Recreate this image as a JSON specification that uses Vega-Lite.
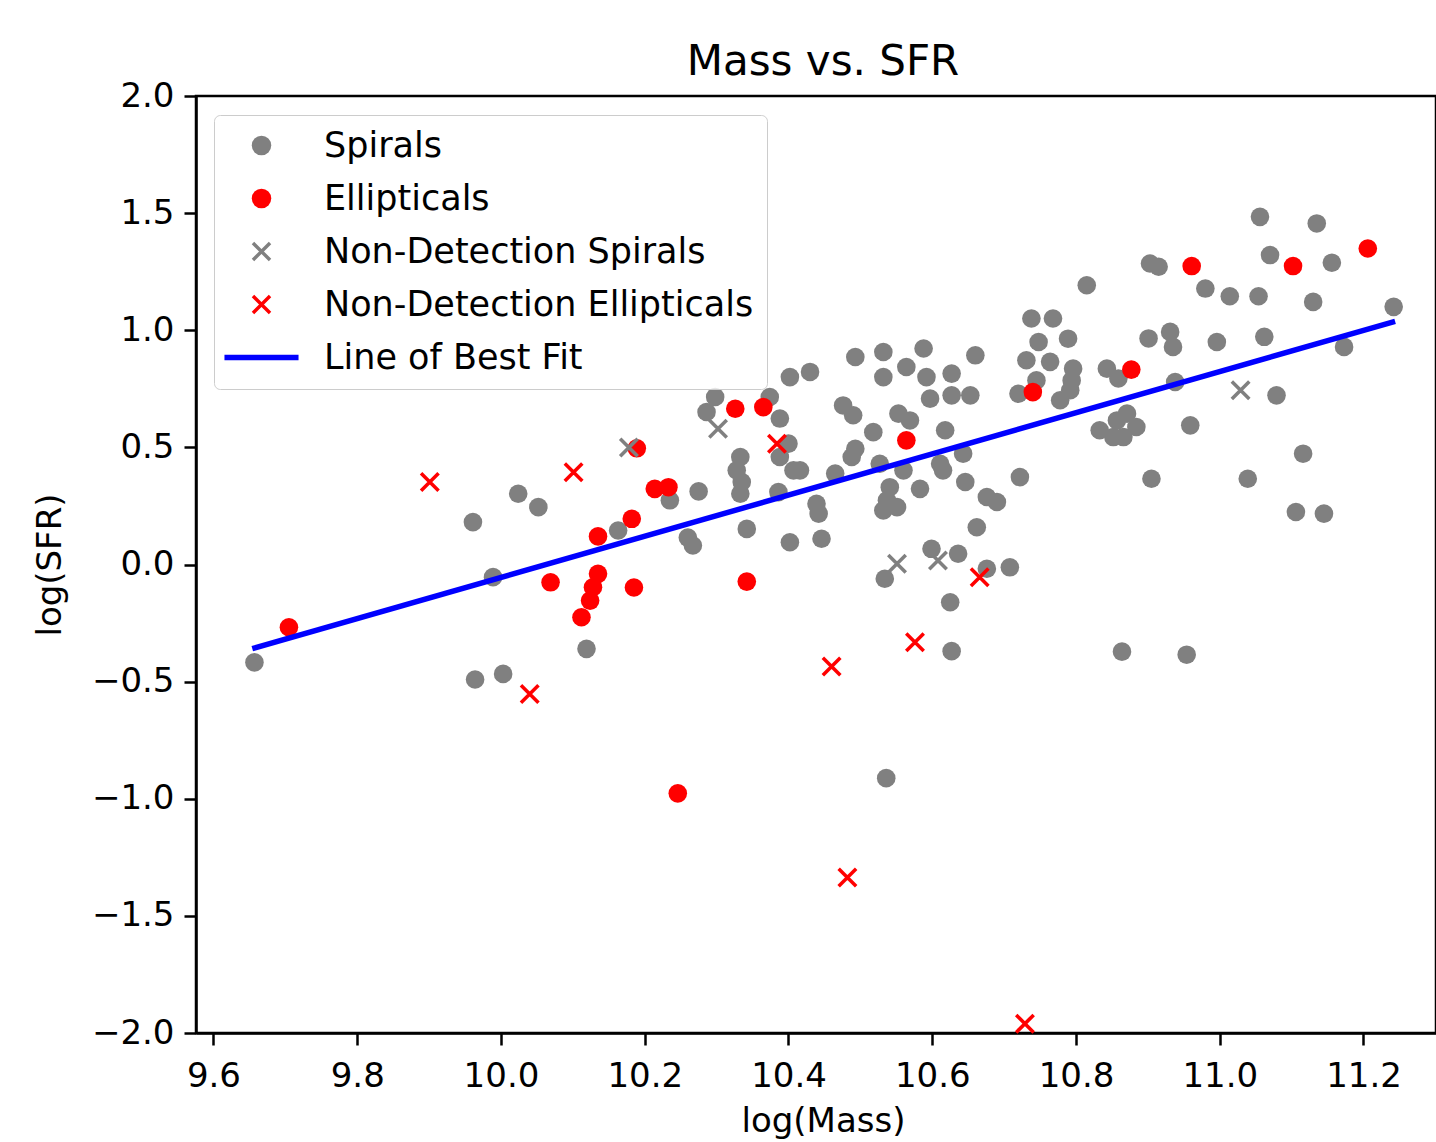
{
  "$schema": "https://vega.github.io/schema/vega-lite/v6.json",
  "autosize": {"type": "none"},
  "padding": {"left": 196, "top": 96, "right": 0, "bottom": 109},
  "width": 1240,
  "height": 937,
  "background": "white",
  "title": {"text": "Mass vs. SFR", "font": "DejaVu Sans", "fontSize": 42, "fontWeight": "normal", "color": "black", "anchor": "middle", "frame": "group", "offset": 9, "dx": 7, "dy": 14},
  "config": {
    "view": {"stroke": "black", "strokeWidth": 2.5},
    "axis": {"labelFont": "DejaVu Sans", "titleFont": "DejaVu Sans", "labelFontSize": 34, "titleFontSize": 34, "titleFontWeight": "normal", "labelColor": "black", "titleColor": "black", "tickColor": "black", "domainColor": "black", "tickSize": 12, "tickWidth": 2.5, "domainWidth": 2.5, "grid": false},
    "legend": {"labelFont": "DejaVu Sans"}
  },
  "datasets": {
    "points": [
      {"mass": 9.657, "sfr": -0.418, "type": "Spirals"},
      {"mass": 9.961, "sfr": 0.181, "type": "Spirals"},
      {"mass": 10.024, "sfr": 0.302, "type": "Spirals"},
      {"mass": 10.052, "sfr": 0.245, "type": "Spirals"},
      {"mass": 9.989, "sfr": -0.054, "type": "Spirals"},
      {"mass": 10.119, "sfr": -0.360, "type": "Spirals"},
      {"mass": 9.964, "sfr": -0.491, "type": "Spirals"},
      {"mass": 10.003, "sfr": -0.467, "type": "Spirals"},
      {"mass": 10.163, "sfr": 0.145, "type": "Spirals"},
      {"mass": 10.235, "sfr": 0.274, "type": "Spirals"},
      {"mass": 10.275, "sfr": 0.312, "type": "Spirals"},
      {"mass": 10.260, "sfr": 0.115, "type": "Spirals"},
      {"mass": 10.267, "sfr": 0.081, "type": "Spirals"},
      {"mass": 10.342, "sfr": 0.152, "type": "Spirals"},
      {"mass": 10.402, "sfr": 0.095, "type": "Spirals"},
      {"mass": 10.333, "sfr": 0.459, "type": "Spirals"},
      {"mass": 10.328, "sfr": 0.402, "type": "Spirals"},
      {"mass": 10.335, "sfr": 0.352, "type": "Spirals"},
      {"mass": 10.333, "sfr": 0.302, "type": "Spirals"},
      {"mass": 10.298, "sfr": 0.715, "type": "Spirals"},
      {"mass": 10.286, "sfr": 0.651, "type": "Spirals"},
      {"mass": 10.374, "sfr": 0.715, "type": "Spirals"},
      {"mass": 10.388, "sfr": 0.623, "type": "Spirals"},
      {"mass": 10.400, "sfr": 0.516, "type": "Spirals"},
      {"mass": 10.388, "sfr": 0.459, "type": "Spirals"},
      {"mass": 10.402, "sfr": 0.800, "type": "Spirals"},
      {"mass": 10.430, "sfr": 0.822, "type": "Spirals"},
      {"mass": 10.407, "sfr": 0.402, "type": "Spirals"},
      {"mass": 10.386, "sfr": 0.309, "type": "Spirals"},
      {"mass": 10.493, "sfr": 0.886, "type": "Spirals"},
      {"mass": 10.532, "sfr": 0.907, "type": "Spirals"},
      {"mass": 10.588, "sfr": 0.922, "type": "Spirals"},
      {"mass": 10.660, "sfr": 0.893, "type": "Spirals"},
      {"mass": 10.532, "sfr": 0.800, "type": "Spirals"},
      {"mass": 10.564, "sfr": 0.843, "type": "Spirals"},
      {"mass": 10.592, "sfr": 0.800, "type": "Spirals"},
      {"mass": 10.627, "sfr": 0.815, "type": "Spirals"},
      {"mass": 10.597, "sfr": 0.708, "type": "Spirals"},
      {"mass": 10.627, "sfr": 0.722, "type": "Spirals"},
      {"mass": 10.653, "sfr": 0.722, "type": "Spirals"},
      {"mass": 10.476, "sfr": 0.679, "type": "Spirals"},
      {"mass": 10.490, "sfr": 0.637, "type": "Spirals"},
      {"mass": 10.518, "sfr": 0.565, "type": "Spirals"},
      {"mass": 10.553, "sfr": 0.644, "type": "Spirals"},
      {"mass": 10.569, "sfr": 0.615, "type": "Spirals"},
      {"mass": 10.618, "sfr": 0.573, "type": "Spirals"},
      {"mass": 10.493, "sfr": 0.494, "type": "Spirals"},
      {"mass": 10.488, "sfr": 0.459, "type": "Spirals"},
      {"mass": 10.416, "sfr": 0.402, "type": "Spirals"},
      {"mass": 10.465, "sfr": 0.388, "type": "Spirals"},
      {"mass": 10.439, "sfr": 0.259, "type": "Spirals"},
      {"mass": 10.442, "sfr": 0.217, "type": "Spirals"},
      {"mass": 10.446, "sfr": 0.110, "type": "Spirals"},
      {"mass": 10.527, "sfr": 0.430, "type": "Spirals"},
      {"mass": 10.560, "sfr": 0.402, "type": "Spirals"},
      {"mass": 10.541, "sfr": 0.330, "type": "Spirals"},
      {"mass": 10.537, "sfr": 0.274, "type": "Spirals"},
      {"mass": 10.551, "sfr": 0.245, "type": "Spirals"},
      {"mass": 10.532, "sfr": 0.231, "type": "Spirals"},
      {"mass": 10.583, "sfr": 0.323, "type": "Spirals"},
      {"mass": 10.615, "sfr": 0.402, "type": "Spirals"},
      {"mass": 10.611, "sfr": 0.430, "type": "Spirals"},
      {"mass": 10.643, "sfr": 0.473, "type": "Spirals"},
      {"mass": 10.646, "sfr": 0.352, "type": "Spirals"},
      {"mass": 10.676, "sfr": 0.288, "type": "Spirals"},
      {"mass": 10.690, "sfr": 0.267, "type": "Spirals"},
      {"mass": 10.662, "sfr": 0.159, "type": "Spirals"},
      {"mass": 10.534, "sfr": -0.061, "type": "Spirals"},
      {"mass": 10.599, "sfr": 0.067, "type": "Spirals"},
      {"mass": 10.636, "sfr": 0.046, "type": "Spirals"},
      {"mass": 10.676, "sfr": -0.018, "type": "Spirals"},
      {"mass": 10.708, "sfr": -0.012, "type": "Spirals"},
      {"mass": 10.625, "sfr": -0.161, "type": "Spirals"},
      {"mass": 10.722, "sfr": 0.373, "type": "Spirals"},
      {"mass": 10.627, "sfr": -0.370, "type": "Spirals"},
      {"mass": 10.536, "sfr": -0.912, "type": "Spirals"},
      {"mass": 10.903, "sfr": 1.285, "type": "Spirals"},
      {"mass": 10.915, "sfr": 1.271, "type": "Spirals"},
      {"mass": 10.980, "sfr": 1.178, "type": "Spirals"},
      {"mass": 10.815, "sfr": 1.192, "type": "Spirals"},
      {"mass": 10.738, "sfr": 1.050, "type": "Spirals"},
      {"mass": 10.768, "sfr": 1.050, "type": "Spirals"},
      {"mass": 10.748, "sfr": 0.950, "type": "Spirals"},
      {"mass": 10.789, "sfr": 0.964, "type": "Spirals"},
      {"mass": 10.731, "sfr": 0.872, "type": "Spirals"},
      {"mass": 10.764, "sfr": 0.865, "type": "Spirals"},
      {"mass": 10.796, "sfr": 0.836, "type": "Spirals"},
      {"mass": 10.720, "sfr": 0.729, "type": "Spirals"},
      {"mass": 10.745, "sfr": 0.786, "type": "Spirals"},
      {"mass": 10.794, "sfr": 0.786, "type": "Spirals"},
      {"mass": 10.792, "sfr": 0.744, "type": "Spirals"},
      {"mass": 10.778, "sfr": 0.701, "type": "Spirals"},
      {"mass": 10.843, "sfr": 0.836, "type": "Spirals"},
      {"mass": 10.859, "sfr": 0.794, "type": "Spirals"},
      {"mass": 10.901, "sfr": 0.965, "type": "Spirals"},
      {"mass": 10.931, "sfr": 0.993, "type": "Spirals"},
      {"mass": 10.935, "sfr": 0.929, "type": "Spirals"},
      {"mass": 10.938, "sfr": 0.779, "type": "Spirals"},
      {"mass": 10.871, "sfr": 0.644, "type": "Spirals"},
      {"mass": 10.884, "sfr": 0.587, "type": "Spirals"},
      {"mass": 10.857, "sfr": 0.615, "type": "Spirals"},
      {"mass": 10.833, "sfr": 0.573, "type": "Spirals"},
      {"mass": 10.852, "sfr": 0.544, "type": "Spirals"},
      {"mass": 10.866, "sfr": 0.544, "type": "Spirals"},
      {"mass": 10.959, "sfr": 0.594, "type": "Spirals"},
      {"mass": 10.905, "sfr": 0.366, "type": "Spirals"},
      {"mass": 11.056, "sfr": 1.484, "type": "Spirals"},
      {"mass": 11.135, "sfr": 1.456, "type": "Spirals"},
      {"mass": 11.070, "sfr": 1.321, "type": "Spirals"},
      {"mass": 11.156, "sfr": 1.288, "type": "Spirals"},
      {"mass": 11.014, "sfr": 1.145, "type": "Spirals"},
      {"mass": 11.054, "sfr": 1.145, "type": "Spirals"},
      {"mass": 11.130, "sfr": 1.121, "type": "Spirals"},
      {"mass": 11.242, "sfr": 1.100, "type": "Spirals"},
      {"mass": 10.996, "sfr": 0.950, "type": "Spirals"},
      {"mass": 11.062, "sfr": 0.972, "type": "Spirals"},
      {"mass": 11.173, "sfr": 0.929, "type": "Spirals"},
      {"mass": 11.079, "sfr": 0.722, "type": "Spirals"},
      {"mass": 11.116, "sfr": 0.473, "type": "Spirals"},
      {"mass": 11.039, "sfr": 0.366, "type": "Spirals"},
      {"mass": 11.106, "sfr": 0.224, "type": "Spirals"},
      {"mass": 11.145, "sfr": 0.217, "type": "Spirals"},
      {"mass": 10.864, "sfr": -0.372, "type": "Spirals"},
      {"mass": 10.954, "sfr": -0.385, "type": "Spirals"},
      {"mass": 9.705, "sfr": -0.268, "type": "Ellipticals"},
      {"mass": 10.069, "sfr": -0.076, "type": "Ellipticals"},
      {"mass": 10.135, "sfr": -0.040, "type": "Ellipticals"},
      {"mass": 10.128, "sfr": -0.097, "type": "Ellipticals"},
      {"mass": 10.124, "sfr": -0.154, "type": "Ellipticals"},
      {"mass": 10.112, "sfr": -0.225, "type": "Ellipticals"},
      {"mass": 10.135, "sfr": 0.120, "type": "Ellipticals"},
      {"mass": 10.182, "sfr": 0.195, "type": "Ellipticals"},
      {"mass": 10.189, "sfr": 0.496, "type": "Ellipticals"},
      {"mass": 10.185, "sfr": -0.098, "type": "Ellipticals"},
      {"mass": 10.214, "sfr": 0.323, "type": "Ellipticals"},
      {"mass": 10.233, "sfr": 0.330, "type": "Ellipticals"},
      {"mass": 10.342, "sfr": -0.073, "type": "Ellipticals"},
      {"mass": 10.326, "sfr": 0.665, "type": "Ellipticals"},
      {"mass": 10.365, "sfr": 0.672, "type": "Ellipticals"},
      {"mass": 10.564, "sfr": 0.530, "type": "Ellipticals"},
      {"mass": 10.246, "sfr": -0.977, "type": "Ellipticals"},
      {"mass": 10.740, "sfr": 0.736, "type": "Ellipticals"},
      {"mass": 10.877, "sfr": 0.832, "type": "Ellipticals"},
      {"mass": 10.961, "sfr": 1.274, "type": "Ellipticals"},
      {"mass": 11.102, "sfr": 1.274, "type": "Ellipticals"},
      {"mass": 11.206, "sfr": 1.349, "type": "Ellipticals"},
      {"mass": 10.178, "sfr": 0.500, "type": "Non-Detection Spirals"},
      {"mass": 10.302, "sfr": 0.580, "type": "Non-Detection Spirals"},
      {"mass": 10.551, "sfr": 0.003, "type": "Non-Detection Spirals"},
      {"mass": 10.608, "sfr": 0.017, "type": "Non-Detection Spirals"},
      {"mass": 11.029, "sfr": 0.744, "type": "Non-Detection Spirals"},
      {"mass": 9.901, "sfr": 0.352, "type": "Non-Detection Ellipticals"},
      {"mass": 10.101, "sfr": 0.394, "type": "Non-Detection Ellipticals"},
      {"mass": 10.040, "sfr": -0.553, "type": "Non-Detection Ellipticals"},
      {"mass": 10.384, "sfr": 0.516, "type": "Non-Detection Ellipticals"},
      {"mass": 10.460, "sfr": -0.435, "type": "Non-Detection Ellipticals"},
      {"mass": 10.576, "sfr": -0.332, "type": "Non-Detection Ellipticals"},
      {"mass": 10.666, "sfr": -0.054, "type": "Non-Detection Ellipticals"},
      {"mass": 10.482, "sfr": -1.336, "type": "Non-Detection Ellipticals"},
      {"mass": 10.729, "sfr": -1.960, "type": "Non-Detection Ellipticals"}
    ],
    "fit": [
      {"mass": 9.654, "sfr": -0.359, "type": "Line of Best Fit"},
      {"mass": 11.244, "sfr": 1.038, "type": "Line of Best Fit"}
    ]
  },
  "layer": [
    {
      "data": {"name": "points"},
      "mark": {"type": "point", "filled": true, "opacity": 1, "strokeWidth": 0},
      "encoding": {
        "x": {"field": "mass", "type": "quantitative", "title": "log(Mass)",
              "scale": {"domain": [9.5757, 11.3009], "nice": false, "zero": false},
              "axis": {"values": [9.6, 9.8, 10.0, 10.2, 10.4, 10.6, 10.8, 11.0, 11.2], "format": ".1f", "labelPadding": 14, "titlePadding": 11, "titleX": 627}},
        "y": {"field": "sfr", "type": "quantitative", "title": "log(SFR)",
              "scale": {"domain": [-2, 2], "nice": false, "zero": false},
              "axis": {"values": [-2, -1.5, -1, -0.5, 0, 0.5, 1, 1.5, 2], "format": ".1f", "labelPadding": 10, "titlePadding": 24}},
        "color": {"field": "type", "type": "nominal",
                  "scale": {"domain": ["Spirals", "Ellipticals", "Non-Detection Spirals", "Non-Detection Ellipticals", "Line of Best Fit"], "range": ["#808080", "#ff0000", "#808080", "#ff0000", "#0000ff"]},
                  "legend": {"title": null, "orient": "none", "legendX": 18, "legendY": 19, "labelFontSize": 35, "labelColor": "black", "labelLimit": 0, "padding": 13, "rowPadding": 17, "fillColor": "rgba(255,255,255,0.8)", "strokeColor": "#cccccc", "cornerRadius": 6, "symbolSize": 380, "symbolOffset": 17, "symbolStrokeWidth": 0, "labelOffset": 45,
                             "encode": {"symbols": {"update": {
                               "shape": {"scale": "shape", "field": "value"},
                               "opacity": {"value": 1}
                             }}}}},
        "shape": {"field": "type", "type": "nominal",
                  "scale": {"domain": ["Spirals", "Ellipticals", "Non-Detection Spirals", "Non-Detection Ellipticals", "Line of Best Fit"], "range": ["circle", "circle", "M-0.75,-1L1,0.75L0.75,1L-1,-0.75Z M0.75,-1L1,-0.75L-0.75,1L-1,0.75Z", "M-0.75,-1L1,0.75L0.75,1L-1,-0.75Z M0.75,-1L1,-0.75L-0.75,1L-1,0.75Z", "M-3.8,-0.28L3.8,-0.28L3.8,0.28L-3.8,0.28Z"]}},
        "size": {"condition": {"test": "indexof(datum.type, 'Non-') === 0", "value": 400}, "value": 346}
      }
    },
    {
      "data": {"name": "fit"},
      "mark": {"type": "line", "strokeWidth": 5.5},
      "encoding": {
        "x": {"field": "mass", "type": "quantitative"},
        "y": {"field": "sfr", "type": "quantitative"},
        "color": {"field": "type", "type": "nominal"}
      }
    }
  ]
}
